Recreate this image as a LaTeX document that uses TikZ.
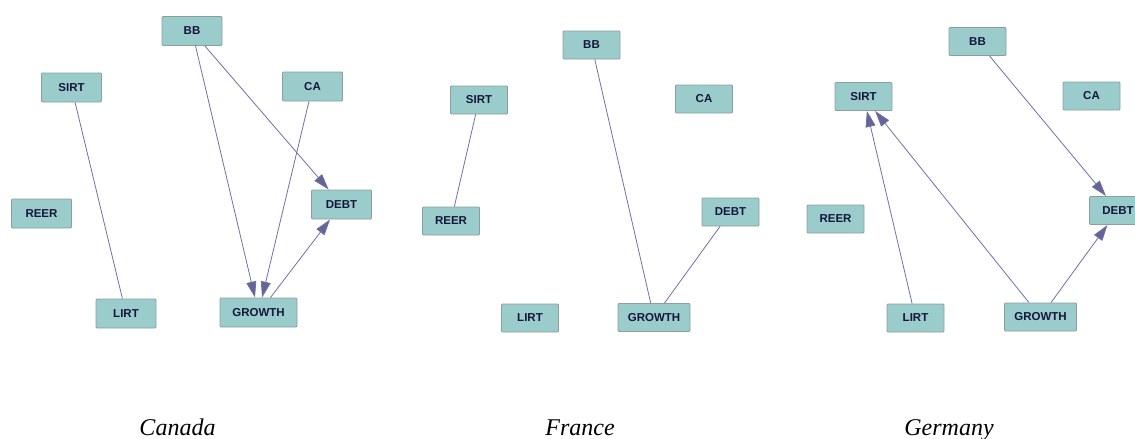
\documentclass[tikz,border=0pt]{standalone}
\usepackage{fontspec}
\setmainfont{Liberation Serif}
\newfontfamily\labelfont{Liberation Sans}
\usetikzlibrary{arrows.meta}
\definecolor{boxfill}{RGB}{154,204,204}
\definecolor{boxline}{RGB}{140,158,158}
\definecolor{boxtext}{RGB}{22,22,60}
\definecolor{linkcol}{RGB}{112,112,165}
\definecolor{headcol}{RGB}{100,100,152}
\tikzset{
  var/.style={draw=boxline, fill=boxfill, line width=0.9pt, rounded corners=1pt,
    inner sep=0pt, minimum height=28pt, minimum width=58pt,
    font=\labelfont\bfseries\fontsize{11.5}{12}\selectfont, text=boxtext},
  link/.style={draw=linkcol, line width=0.8pt},
  arc/.style={link, -{Triangle[length=16pt, width=10pt, fill=headcol]}},
  caption/.style={font=\itshape\fontsize{24}{26}\selectfont, anchor=base, text=black}
}
\begin{document}
\begin{tikzpicture}[x=1pt, y=-1pt]
\useasboundingbox (0,0) rectangle (1135,439);
\clip (0,0) rectangle (1135,439);

% Canada
\node[var, minimum width=60pt, minimum height=29pt] (cBB)   at (192,31)    {BB};
\node[var, minimum width=60pt, minimum height=29pt] (cSIRT) at (71.5,87.5) {SIRT};
\node[var, minimum width=60pt, minimum height=29pt] (cCA)   at (312.5,86.5) {CA};
\node[var, minimum width=60pt, minimum height=29pt] (cREER) at (41.5,213.5) {REER};
\node[var, minimum width=60pt, minimum height=29pt] (cDEBT) at (341.5,204.5) {DEBT};
\node[var, minimum width=60pt, minimum height=29pt] (cLIRT) at (126,313.5) {LIRT};
\node[var, minimum width=77pt, minimum height=29pt] (cGROWTH) at (258.5,312.5) {GROWTH};

\draw[link] (cSIRT) -- (cLIRT);
\draw[arc] (cBB) -- (cGROWTH);
\draw[arc] (cBB) -- (cDEBT);
\draw[arc] (cCA) -- (cGROWTH);
\draw[arc] (cGROWTH.north east) ++(-27,0) coordinate (cGo) (cGo) -- (cDEBT);

% France
\node[var, minimum width=57pt] (fBB)   at (591.5,45)  {BB};
\node[var, minimum width=57pt] (fSIRT) at (479,100)   {SIRT};
\node[var, minimum width=57pt] (fCA)   at (704,99)    {CA};
\node[var, minimum width=57pt] (fREER) at (451,221)   {REER};
\node[var, minimum width=57pt] (fDEBT) at (730.5,212) {DEBT};
\node[var, minimum width=57pt] (fLIRT) at (530,318)   {LIRT};
\node[var, minimum width=72pt] (fGROWTH) at (654,317.5) {GROWTH};

\draw[link] (fSIRT) -- (fREER);
\draw[link] (fBB) -- (fGROWTH);
\draw[link] (fDEBT) -- (fGROWTH);

% Germany
\node[var, minimum width=57pt] (gBB)   at (977.5,41.5) {BB};
\node[var, minimum width=57pt] (gSIRT) at (863.5,96.5) {SIRT};
\node[var, minimum width=57pt] (gCA)   at (1091.5,96)  {CA};
\node[var, minimum width=57pt] (gREER) at (835.5,219)  {REER};
\node[var, minimum width=57pt] (gDEBT) at (1118,210.5) {DEBT};
\node[var, minimum width=57pt] (gLIRT) at (915.5,318)  {LIRT};
\node[var, minimum width=72pt] (gGROWTH) at (1040.5,317) {GROWTH};

\draw[arc] (gBB) -- (gDEBT);
\draw[arc] (gLIRT) -- (gSIRT);
\draw[arc] (gGROWTH) -- (gSIRT);
\draw[arc] (gGROWTH) -- (gDEBT);

% Country captions
\node[caption] (capC) at (177.5,435) {Canada};
\node[caption] (capF) at (580,435)   {France};
\node[caption] (capG) at (949,435)   {Germany};
\end{tikzpicture}
\end{document}
